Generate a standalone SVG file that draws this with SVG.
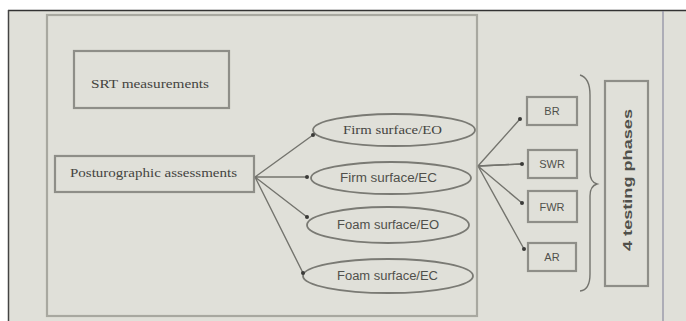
<svg xmlns="http://www.w3.org/2000/svg" width="686" height="321" viewBox="0 0 686 321">
<style>
.box{fill:none;stroke:#8e8e88;stroke-width:2.2}
.ell{fill:none;stroke:#7a7a74;stroke-width:1.8}
.ln{stroke:#74746e;stroke-width:1.4;fill:none}
.dot{fill:#3a3a38}
.ts{font-family:"Liberation Serif",serif;fill:#44443f}
.tn{font-family:"Liberation Sans",sans-serif;fill:#50504b}
</style>
<rect x="0" y="0" width="686" height="321" fill="#ffffff"/>
<rect x="9" y="11" width="677" height="310" fill="#e0e0d9"/>
<line x1="8" y1="10.5" x2="686" y2="10.5" stroke="#333" stroke-width="1.5"/>
<line x1="8.5" y1="10" x2="8.5" y2="321" stroke="#444" stroke-width="1.5"/>
<line x1="663" y1="11" x2="663" y2="321" stroke="#8a8aa0" stroke-width="1.2"/>
<g id="frame"><rect x="47" y="15" width="430" height="301" fill="none" stroke="#a8a8a0" stroke-width="2.2"/></g>
<g id="srt"><rect x="74" y="51" width="155" height="57" class="box"/><text x="91" y="88" class="ts" font-size="12" textLength="118" lengthAdjust="spacingAndGlyphs">SRT measurements</text></g>
<g id="posturo"><rect x="55" y="156" width="199" height="36" class="box"/><text x="70" y="177" class="ts" font-size="12" textLength="167" lengthAdjust="spacingAndGlyphs">Posturographic assessments</text></g>
<g id="firmEO"><ellipse cx="394" cy="130" rx="81" ry="16" class="ell"/><text x="343" y="134" class="ts" font-size="12" textLength="99" lengthAdjust="spacingAndGlyphs">Firm surface/EO</text></g>
<g id="firmEC"><ellipse cx="391" cy="178" rx="80" ry="16" class="ell"/><text x="340" y="182" class="tn" font-size="12" textLength="97" lengthAdjust="spacingAndGlyphs">Firm surface/EC</text></g>
<g id="foamEO"><ellipse cx="388" cy="225" rx="81" ry="18" class="ell"/><text x="337" y="229" class="tn" font-size="12" textLength="102" lengthAdjust="spacingAndGlyphs">Foam surface/EO</text></g>
<g id="foamEC"><ellipse cx="388" cy="276" rx="85" ry="17" class="ell"/><text x="337" y="280" class="tn" font-size="12" textLength="101" lengthAdjust="spacingAndGlyphs">Foam surface/EC</text></g>
<g id="br"><rect x="527" y="97" width="50" height="28" class="box"/><text x="552" y="115" class="tn" font-size="11" text-anchor="middle">BR</text></g>
<g id="swr"><rect x="528" y="150" width="49" height="28" class="box"/><text x="552" y="168" class="tn" font-size="11" text-anchor="middle">SWR</text></g>
<g id="fwr"><rect x="528" y="191" width="49" height="31" class="box"/><text x="552" y="211" class="tn" font-size="11" text-anchor="middle">FWR</text></g>
<g id="ar"><rect x="528" y="243" width="48" height="28" class="box"/><text x="552" y="261" class="tn" font-size="11" text-anchor="middle">AR</text></g>
<g id="phases"><rect x="605" y="81" width="43" height="205" class="box"/><text transform="translate(632,180) rotate(-90)" class="tn" font-size="12" font-weight="bold" text-anchor="middle" textLength="142" lengthAdjust="spacingAndGlyphs">4 testing phases</text></g>
<g id="connectors">
<path class="ln" d="M255,177 L313,135 M255,177 L307,177 M255,177 L307,217 M255,177 L303,273"/>
<path class="ln" d="M478,166 L520,119 M478,166 L522,164 M478,166 L522,203 M478,166 L524,249"/>
<path class="ln" d="M479,166 L522,164" stroke-width="2.5"/>
<path class="ln" d="M580,75 Q590,78 590,95 L590,172 Q590,182 597,184 Q590,186 590,196 L590,274 Q590,290 580,291" stroke="#909088" stroke-width="1.6"/>
<circle class="dot" cx="313" cy="135" r="2"/><circle class="dot" cx="307" cy="177" r="2"/><circle class="dot" cx="307" cy="217" r="2"/><circle class="dot" cx="303" cy="273" r="2"/>
<circle class="dot" cx="520" cy="119" r="2"/><circle class="dot" cx="522" cy="164" r="2"/><circle class="dot" cx="522" cy="203" r="2"/><circle class="dot" cx="524" cy="249" r="2"/>
</g>
</svg>
